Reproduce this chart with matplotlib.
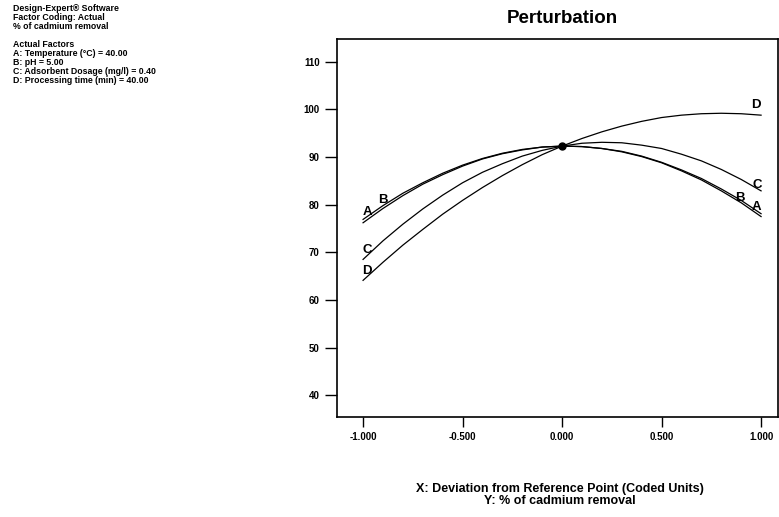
import matplotlib
matplotlib.use("Agg")
import matplotlib.pyplot as plt

# narrow-ish bold font, close to the Design-Expert look
plt.rcParams['font.family'] = ['Liberation Sans', 'DejaVu Sans']
plt.rcParams['font.weight'] = 'bold'

# deviation from reference point (coded units)
dev = [-1.0, -0.9, -0.8, -0.7, -0.6, -0.5, -0.4, -0.3, -0.2, -0.1, 0.0,
       0.1, 0.2, 0.3, 0.4, 0.5, 0.6, 0.7, 0.8, 0.9, 1.0]

# % of cadmium removal along each factor
curve_a = [76.2, 79.2, 81.9, 84.3, 86.3, 88.1, 89.6, 90.7, 91.5, 92.1, 92.3,
           92.2, 91.8, 91.1, 90.1, 88.8, 87.1, 85.2, 82.9, 80.4, 77.5]
curve_b = [76.9, 79.8, 82.4, 84.6, 86.6, 88.3, 89.7, 90.8, 91.6, 92.1, 92.3,
           92.2, 91.8, 91.2, 90.2, 88.9, 87.3, 85.5, 83.3, 80.9, 78.1]
curve_c = [68.5, 72.4, 75.9, 79.1, 82.0, 84.6, 86.8, 88.6, 90.2, 91.4, 92.3,
           92.9, 93.1, 93.0, 92.5, 91.8, 90.6, 89.2, 87.4, 85.3, 82.9]
curve_d = [64.1, 67.9, 71.5, 74.8, 78.0, 80.9, 83.6, 86.1, 88.4, 90.5, 92.3,
           93.9, 95.3, 96.5, 97.5, 98.3, 98.8, 99.1, 99.2, 99.1, 98.8]

x_ticks = [-1.0, -0.5, 0.0, 0.5, 1.0]
x_tick_labels = ['-1.000', '-0.500', '0.000', '0.500', '1.000']
y_ticks = [40, 50, 60, 70, 80, 90, 100, 110]

header_lines = [
    "Design-Expert\u00ae Software",
    "Factor Coding: Actual",
    "% of cadmium removal",
    "",
    "Actual Factors",
    "A: Temperature (\u00b0C) = 40.00",
    "B: pH = 5.00",
    "C: Adsorbent Dosage (mg/l) = 0.40",
    "D: Processing time (min) = 40.00",
]

fig = plt.figure(figsize=(7.79, 5.17), dpi=100)
ax = fig.add_axes([0.4326, 0.1934, 0.5661, 0.7312])

curves = {'A': curve_a, 'B': curve_b, 'C': curve_c, 'D': curve_d}
for name, vals in curves.items():
    ax.plot(dev, vals, color='black', linewidth=0.9)

# reference point
i0 = dev.index(0.0)
ax.plot(dev[i0], curve_a[i0], 'o', color='black', markersize=5)

# curve letters at both ends (offsets in points)
left_off = {'A': (3, 8), 'B': (14, 14), 'C': (3, 7), 'D': (3, 7)}
right_off = {'A': (-3, 7), 'B': (-15, 11), 'C': (-3, 4), 'D': (-4, 7)}
for name, vals in curves.items():
    ax.annotate(name, xy=(dev[0], vals[0]), xytext=left_off[name],
                textcoords='offset points', ha='center', va='center',
                fontsize=9.5)
    ax.annotate(name, xy=(dev[-1], vals[-1]), xytext=right_off[name],
                textcoords='offset points', ha='center', va='center',
                fontsize=9.5)

ax.set_xlim(-1.131, 1.085)
ax.set_ylim(35.4, 114.8)
ax.set_xticks(x_ticks)
ax.set_xticklabels(x_tick_labels)
ax.set_yticks(y_ticks)
ax.tick_params(axis='both', direction='out', labelsize=7, width=1.0, color='black')
ax.tick_params(axis='y', length=8.5, pad=4)
ax.tick_params(axis='x', length=7, pad=4)
for sp in ax.spines.values():
    sp.set_linewidth(1.2)

fig.text(0.7214, 0.965, 'Perturbation', ha='center', va='center',
         fontsize=13.5, fontweight='bold')

fig.text(0.719, 0.043, "X: Deviation from Reference Point (Coded Units)\nY: % of cadmium removal",
         ha='center', va='center', fontsize=9, linespacing=0.95)

fig.text(0.017, 0.993, "\n".join(header_lines), ha='left', va='top',
         fontsize=6.3, linespacing=1.0)

plt.savefig('out.png', dpi=100)
